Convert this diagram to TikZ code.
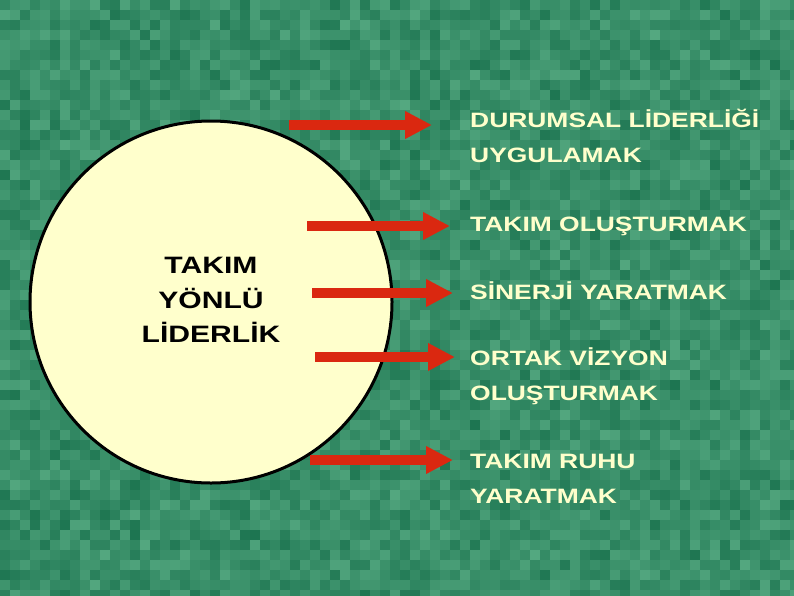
\documentclass[tikz,border=0pt]{standalone}
\usepackage{fontspec}
\setmainfont{Liberation Sans}[FakeStretch=1.27]
\usetikzlibrary{arrows.meta}

\definecolor{greendark}{RGB}{28,116,80}
\definecolor{greenlight}{RGB}{84,168,128}
\definecolor{cream}{RGB}{255,255,204}
\definecolor{arrowred}{RGB}{218,40,16}

\tikzset{
    redarrow/.style={draw=arrowred, line width=10pt, -{Triangle[length=27pt, width=26pt]}},
    itemtext/.style={anchor=base west, inner sep=0pt, text=cream, align=left,
        font=\fontsize{20.8}{35}\selectfont\bfseries},
    circletext/.style={inner sep=0pt, text=black, align=center,
        font=\fontsize{23.7}{34.5}\selectfont\bfseries}
}

\begin{document}
\begin{tikzpicture}[x=1pt, y=-1pt]
    \useasboundingbox (0,0) rectangle (794,595);

    % textured green background
    \pgfmathsetseed{11}
    \begin{scope}
        \clip (0,0) rectangle (794,595);
        \fill [greendark!50!greenlight] (0,0) rectangle (794,595);
        \foreach \i in {0,...,79} {
            \foreach \j in {0,...,59} {
                \pgfmathsetmacro\mix{(random(0,100)+random(0,100))/2}
                \fill [greendark!\mix!greenlight] (\i*10,\j*10) rectangle ++(10,10);
            }
        }
    \end{scope}

    % circle
    \draw [draw=black, line width=3pt, fill=cream] (211,302) circle (181);
    \node [circletext] (team) at (211,300) {TAKIM\\YÖNLÜ\\LİDERLİK};

    % arrows
    \coordinate (s1) at (289,125);  \coordinate (e1) at (432,125);
    \coordinate (s2) at (307,226);  \coordinate (e2) at (450,226);
    \coordinate (s3) at (312,293);  \coordinate (e3) at (453,293);
    \coordinate (s4) at (315,357);  \coordinate (e4) at (455,357);
    \coordinate (s5) at (310,460);  \coordinate (e5) at (453,460);
    \foreach \k in {1,...,5}
        \draw [redarrow] (s\k) -- (e\k);

    % labels (anchored at the baseline of the last line)
    \node [itemtext] (durumsal) at (470,162) {DURUMSAL LİDERLİĞİ\\UYGULAMAK};
    \node [itemtext] (olustur) at (470,231) {TAKIM OLUŞTURMAK};
    \node [itemtext] (sinerji) at (470,299) {SİNERJİ YARATMAK};
    \node [itemtext] (vizyon) at (470,400) {ORTAK VİZYON\\OLUŞTURMAK};
    \node [itemtext] (ruhu) at (470,503) {TAKIM RUHU\\YARATMAK};
\end{tikzpicture}
\end{document}
